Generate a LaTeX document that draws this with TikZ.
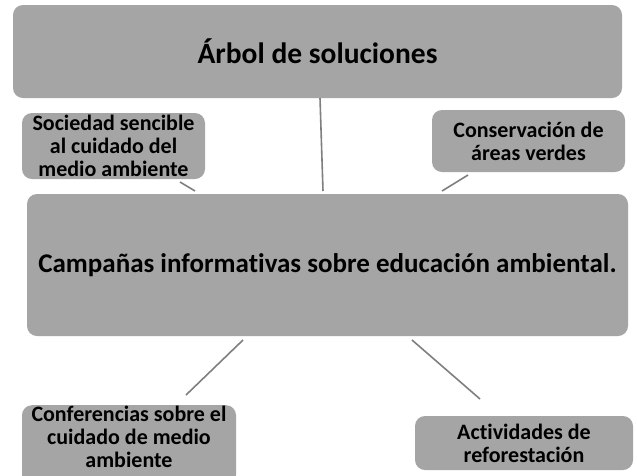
\documentclass[tikz,border=0pt]{standalone}
\usepackage{fontspec}
\setmainfont{Carlito}[Ligatures=NoCommon]
\definecolor{boxgray}{HTML}{A5A5A5}
\definecolor{linegray}{HTML}{7F7F7F}
\begin{document}
\begin{tikzpicture}[x=1pt,y=-1pt,
  box/.style={fill=boxgray,rounded corners=10pt,inner sep=0pt,align=center,font=\bfseries\fontsize{22}{23}\selectfont},
  bigbox/.style={box,font=\bfseries\fontsize{27}{30}\selectfont},
  conn/.style={draw=linegray,line width=1.6pt}]
\path[use as bounding box,fill=white] (0,0) rectangle (637,475);
\clip (0,0) rectangle (637,475);
\node[bigbox,minimum width=609pt,minimum height=93pt,font=\bfseries\fontsize{29.5}{32}\selectfont] (top) at (317.5,51.5) {Árbol de soluciones};
\node[box,minimum width=183pt,minimum height=66pt] (soc) at (113.5,146) {Sociedad sencible\\al cuidado del\\medio ambiente};
\node[box,minimum width=193pt,minimum height=62pt] (cons) at (528.5,141) {Conservación de\\áreas verdes};
\node[bigbox,minimum width=601pt,minimum height=142pt] (camp) at (327.5,265) {Campañas informativas sobre educación ambiental.};
\node[box,minimum width=214pt,minimum height=80pt,anchor=north] (conf) at (129,405) {};
\node[inner sep=0pt,align=center,font=\bfseries\fontsize{22}{23}\selectfont,anchor=north] (conftext) at (129,406) {Conferencias sobre el\\cuidado de medio\\ambiente};
\node[box,minimum width=218pt,minimum height=54pt] (act) at (524,443) {Actividades de\\reforestación};
\coordinate (v1) at (320,98);
\coordinate (v2) at (323,191);
\coordinate (s1) at (180,182);
\coordinate (s2) at (195,191);
\coordinate (c1) at (468,175);
\coordinate (c2) at (442,191);
\coordinate (f1) at (243,340);
\coordinate (f2) at (186,395);
\coordinate (a1) at (412,340);
\coordinate (a2) at (480,399);
\draw[conn] (v1) -- (v2);
\draw[conn] (s1) -- (s2);
\draw[conn] (c1) -- (c2);
\draw[conn] (f1) -- (f2);
\draw[conn] (a1) -- (a2);
\end{tikzpicture}
\end{document}
